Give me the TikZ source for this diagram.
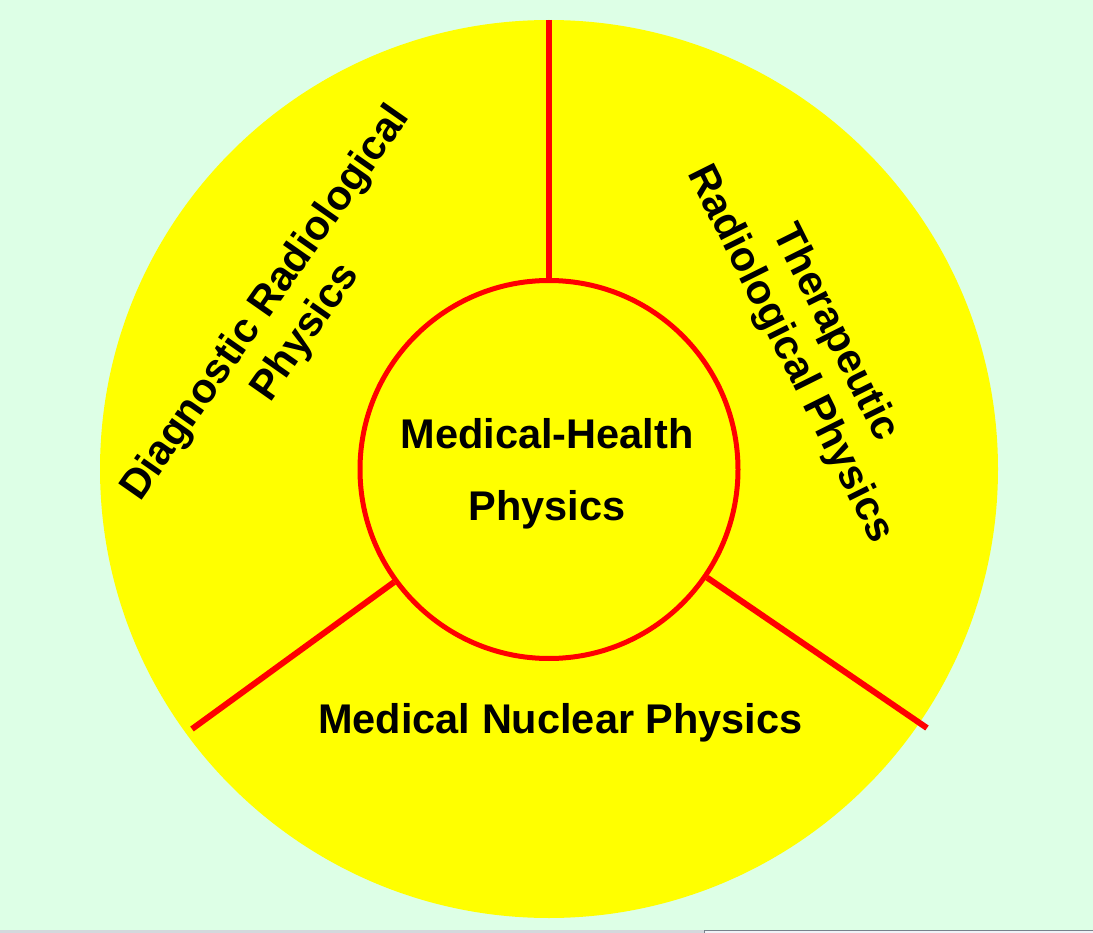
\documentclass[tikz,border=0pt]{standalone}
\usepackage{fontspec}
\setmainfont{Liberation Sans}
\definecolor{bgmint}{RGB}{221,255,230}
\definecolor{sunyellow}{RGB}{255,255,0}
\definecolor{purered}{RGB}{255,0,0}
\definecolor{stripgray}{RGB}{212,216,220}
\definecolor{stripwhite}{RGB}{240,242,246}
\definecolor{stripedge}{RGB}{120,130,140}
\begin{document}
\begin{tikzpicture}[x=1pt,y=-1pt,
  spoke/.style={draw=purered, line width=6pt},
  lbl/.style={font=\fontsize{41.5}{50}\selectfont\bfseries, inner sep=0pt, anchor=base, text=black}]
\useasboundingbox (0,0) rectangle (1093,933);
\fill[bgmint] (0,0) rectangle (1093,933);
% screenshot strip at the bottom
\fill[stripgray] (0,930) rectangle (704,933);
\fill[stripwhite] (704,930) rectangle (1093,933);
\draw[stripedge, line width=1pt] (704,933) -- (704,930.5) -- (1093,930.5);
% circles
\node[circle, fill=sunyellow, minimum size=898pt, inner sep=0pt] (outer) at (549,469) {};
\node[circle, draw=purered, fill=sunyellow, line width=5pt, minimum size=378pt, inner sep=0pt] (inner) at (549,469.5) {};
% spokes
\coordinate (L) at (192,729);
\coordinate (R) at (927,728);
\draw[spoke] (outer.north) -- (inner);
\draw[spoke] (L) -- (inner);
\draw[spoke] (R) -- (inner);
% labels
\node[lbl] (mh1) at (547,448) {Medical-Health};
\node[lbl] (mh2) at (547,520) {Physics};
\node[lbl] (mnp) at (560.5,733) {Medical Nuclear Physics};
\node[lbl, rotate=55] (drp1) at (275,310) {Diagnostic Radiological};
\node[lbl, rotate=55] (drp2) at (315,339) {Physics};
\node[lbl, rotate=-63.5] (trp1) at (825,338) {Therapeutic};
\node[lbl, rotate=-63.5] (trp2) at (780,359) {Radiological Physics};
\end{tikzpicture}
\end{document}
